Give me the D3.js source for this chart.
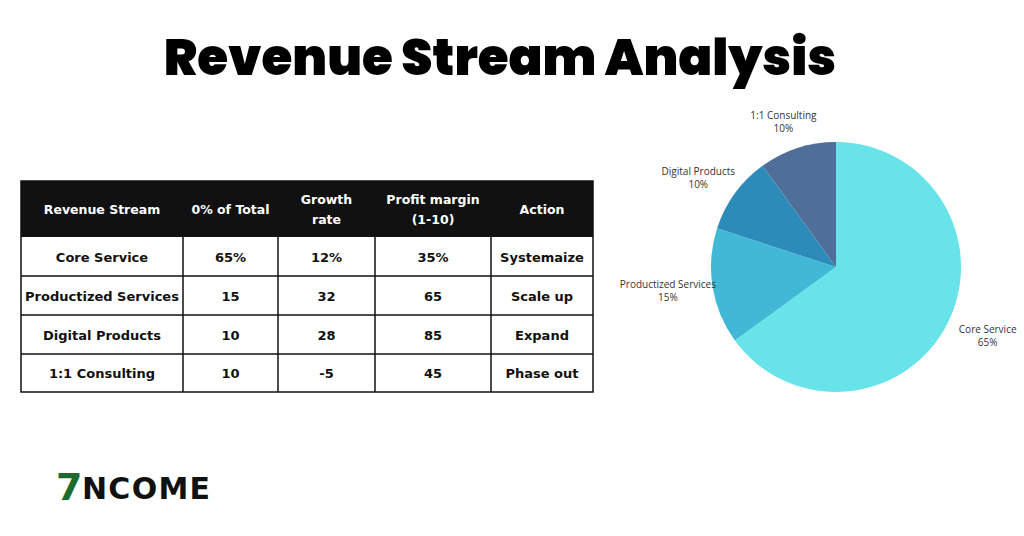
<!DOCTYPE html>
<html><head><meta charset="utf-8">
<script src="https://cdn.jsdelivr.net/npm/d3@7"></script>
<style>body{margin:0;background:#fff}</style></head>
<body><svg id="c" width="1024" height="536"></svg>
<script>
const headers=[["Revenue Stream"],["0% of Total"],["Growth","rate"],["Profit margin","(1-10)"],["Action"]];
const streams=["Core Service","Productized Services","Digital Products","1:1 Consulting"];
const shareText=["65%","15","10","10"];
const growth=["12%","32","28","-5"];
const margin=["35%","65","85","45"];
const actions=["Systemaize","Scale up","Expand","Phase out"];
const pieLabels=["Core Service","Productized Services","Digital Products","1:1 Consulting"];
const pieValues=[65,15,10,10];
const pieColors=["#67e3e9","#41b8d5","#2d8bba","#506e9a"];

const svg=d3.select("#c");
svg.append("text").attr("x",500).attr("y",75).attr("text-anchor","middle")
 .attr("font-family","Poppins, 'DejaVu Sans', sans-serif").attr("font-weight",900)
 .attr("font-size",50).text("Revenue Stream Analysis");

const colEdges=[21,183,278,375,491,593];
const rowEdges=[181,237,276,315,354,392];
const tf="'DejaVu Sans', sans-serif";
const g=svg.append("g");
g.append("rect").attr("x",21).attr("y",181).attr("width",572).attr("height",56).attr("fill","#111");
const rows=streams.map((s,i)=>[s,shareText[i],growth[i],margin[i],actions[i]]);
headers.forEach((h,c)=>{
  const cx=(colEdges[c]+colEdges[c+1])/2, cy=(rowEdges[0]+rowEdges[1])/2;
  h.forEach((line,k)=>g.append("text").attr("x",cx).attr("y",cy+(k-(h.length-1)/2)*20+5)
   .attr("text-anchor","middle").attr("fill","#fff").attr("font-family",tf)
   .attr("font-weight","bold").attr("font-size",12.5).text(line));
});
rows.forEach((r,ri)=>r.forEach((v,c)=>{
  const cx=(colEdges[c]+colEdges[c+1])/2, cy=(rowEdges[ri+1]+rowEdges[ri+2])/2;
  g.append("text").attr("x",cx).attr("y",cy+5).attr("text-anchor","middle")
   .attr("font-family",tf).attr("font-weight","bold").attr("font-size",13).attr("fill","#111").text(v);
}));
g.append("rect").attr("x",21).attr("y",181).attr("width",572).attr("height",211)
 .attr("fill","none").attr("stroke","#111").attr("stroke-width",1.5);
colEdges.slice(1,-1).forEach(x=>g.append("line").attr("x1",x).attr("x2",x).attr("y1",181).attr("y2",392).attr("stroke","#111").attr("stroke-width",1.5));
rowEdges.slice(2,-1).forEach(y=>g.append("line").attr("x1",21).attr("x2",593).attr("y1",y).attr("y2",y).attr("stroke","#111").attr("stroke-width",1.5));

const cx=836,cy=267,R=125;
const pie=d3.pie().sort(null)(pieValues);
const arc=d3.arc().innerRadius(0).outerRadius(R);
const pg=svg.append("g").attr("transform",`translate(${cx},${cy})`);
pg.selectAll("path").data(pie).join("path").attr("d",arc).attr("fill",(d,i)=>pieColors[i]);
const la=d3.arc().innerRadius(R+27).outerRadius(R+27);
pie.forEach((d,i)=>{
  let [x,y]=la.centroid(d); x*=1.12;
  const t=pg.append("text").attr("text-anchor","middle").attr("font-family","'Open Sans', sans-serif")
   .attr("font-size",10).attr("fill","#333");
  t.append("tspan").attr("x",x).attr("y",y-3).text(pieLabels[i]);
  t.append("tspan").attr("x",x).attr("y",y+10).text(pieValues[i]+"%");
});

svg.append("text").attr("x",56).attr("y",500).attr("font-family","'DejaVu Sans', sans-serif")
 .attr("font-weight","bold").attr("font-size",38).attr("fill","#1e6b2f").text("7");
svg.append("text").attr("x",82).attr("y",499).attr("font-family","'DejaVu Sans', sans-serif")
 .attr("font-weight","bold").attr("font-size",30).attr("fill","#111").attr("textLength",128).text("NCOME");
</script></body></html>
